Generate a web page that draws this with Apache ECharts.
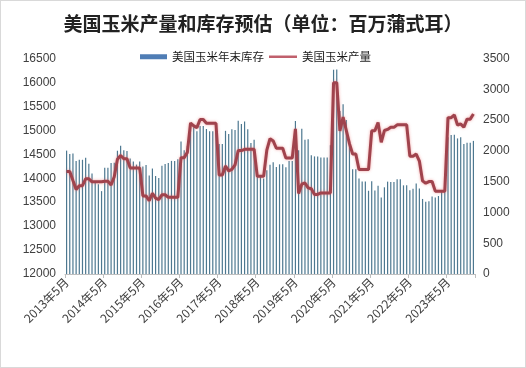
<!DOCTYPE html>
<html>
<head>
<meta charset="utf-8">
<script src="https://cdn.jsdelivr.net/npm/echarts@6/dist/echarts.min.js"></script>
<style>
html,body{margin:0;padding:0;background:#fff;}
#c{width:526px;height:368px;box-sizing:border-box;border:1px solid #d9d9d9;}
</style>
</head>
<body>
<div id="c"></div>
<script>
// Monthly WASDE estimates, May 2013 – Jan 2024
const startYear = 2013, startMonth = 5;
// 美国玉米产量 (million bushels), left axis
const production = [
  14140,14140,13950,13763,13843,13843,13989,13989,13925,13925,13925,13925,
  13935,13935,13860,14032,14395,14475,14407,14407,14216,14216,14216,14216,
  13630,13630,13530,13686,13585,13555,13654,13654,13601,13601,13601,13601,
  14430,14430,14540,15153,15093,15057,15226,15226,15148,15148,15148,15148,
  14065,14065,14255,14153,14184,14280,14578,14578,14604,14604,14604,14604,
  14040,14040,14040,14586,14827,14778,14626,14626,14626,14420,14420,14420,
  15030,13680,13875,13901,13799,13779,13661,13661,13692,13692,13692,13692,
  15995,15995,14990,15278,15000,14722,14507,14507,14182,14182,14182,14182,
  14990,14990,15165,14750,14996,15019,15062,15062,15115,15115,15115,15115,
  14460,14460,14505,14359,13944,13895,13930,13930,13730,13730,13730,13730,
  15265,15265,15320,15111,15134,15064,15234,15234,15342
];
// 美国玉米年末库存 (million bushels), right axis
const endingStocks = [
  2004,1949,1959,1837,1855,1855,1887,1792,1631,1481,1456,1346,
  1726,1726,1801,1808,2002,2081,2008,1998,1877,1827,1777,1827,
  1746,1771,1599,1713,1592,1561,1760,1785,1802,1837,1837,1862,
  2153,2008,2081,2410,2384,2320,2403,2403,2355,2320,2320,2295,
  2110,2110,2325,2273,2350,2340,2487,2437,2477,2352,2127,2182,
  1682,1577,1552,1684,1774,1813,1736,1781,1781,1735,1835,1835,
  2485,2010,2360,2181,2190,1929,1910,1910,1892,1892,1892,2092,
  3318,3323,2648,2756,2503,2167,1702,1702,1552,1502,1502,1352,
  1507,1357,1432,1242,1408,1500,1493,1493,1540,1540,1440,1440,
  1360,1385,1470,1388,1219,1172,1182,1257,1242,1267,1342,1342,
  2222,2257,2262,2202,2221,2111,2131,2131,2162
];
const leftTicks = {min:12000, max:16500, interval:500};
const rightTicks = {min:0, max:3500, interval:500};

const categories = [];
for (let i = 0; i < production.length; i++) {
  const m0 = startMonth - 1 + i;
  const y = startYear + Math.floor(m0 / 12);
  const m = (m0 % 12) + 1;
  categories.push(y + '年' + m + '月');
}

const chart = echarts.init(document.getElementById('c'), null, {renderer:'canvas'});
const axisFont = {fontFamily:'"Liberation Sans", Arial, sans-serif', fontSize:12, color:'#404040'};
const legendText = {fontFamily:'"Noto Sans CJK SC", sans-serif', fontSize:11.5, color:'#1a1a1a'};
chart.setOption({
  backgroundColor:'#ffffff',
  animation:false,
  title:{
    text:'美国玉米产量和库存预估（单位：百万蒲式耳）',
    left:'center', top:8,
    textStyle:{fontFamily:'"Noto Sans CJK SC", sans-serif', fontWeight:'bold', fontSize:19, color:'#222222'}
  },
  legend:[
    {left:134, top:45, itemGap:6, itemWidth:27, itemHeight:5, textStyle:legendText,
     data:[{name:'美国玉米年末库存', icon:'rect', itemStyle:{color:'#4F7DB5'}}]},
    {left:263, top:45, itemGap:6, itemWidth:28, itemHeight:2.5, textStyle:legendText,
     data:[{name:'美国玉米产量', icon:'rect', itemStyle:{color:'#C0606C'}}]}
  ],
  grid:{left:64, right:50, top:57.5, bottom:93, containLabel:false},
  xAxis:{
    type:'category',
    data:categories,
    boundaryGap:true,
    axisLine:{show:true, lineStyle:{color:'#bfbfbf', width:1}},
    axisTick:{show:true, interval:11, length:4, lineStyle:{color:'#bfbfbf'}},
    axisLabel:Object.assign({interval:11, rotate:45, margin:6}, axisFont, {fontFamily:'"Noto Sans CJK SC", sans-serif'})
  },
  yAxis:[
    {type:'value', min:leftTicks.min, max:leftTicks.max, interval:leftTicks.interval,
     axisLine:{show:false}, axisTick:{show:false}, splitLine:{show:false},
     axisLabel:Object.assign({margin:9, formatter:function(v){return String(v);}}, axisFont)},
    {type:'value', min:rightTicks.min, max:rightTicks.max, interval:rightTicks.interval,
     axisLine:{show:false}, axisTick:{show:false}, splitLine:{show:false},
     axisLabel:Object.assign({margin:8, formatter:function(v){return String(v);}}, axisFont)}
  ],
  series:[
    {name:'美国玉米年末库存', type:'bar', yAxisIndex:1, data:endingStocks,
     barWidth:1.2, itemStyle:{color:'#4D7890'}},
    {name:'美国玉米产量', type:'line', yAxisIndex:0, data:production,
     symbol:'none', smooth:false,
     lineStyle:{color:'#A0434D', width:3, shadowColor:'rgba(230,90,90,0.55)', shadowBlur:3},
     z:3}
  ]
});
</script>
</body>
</html>
